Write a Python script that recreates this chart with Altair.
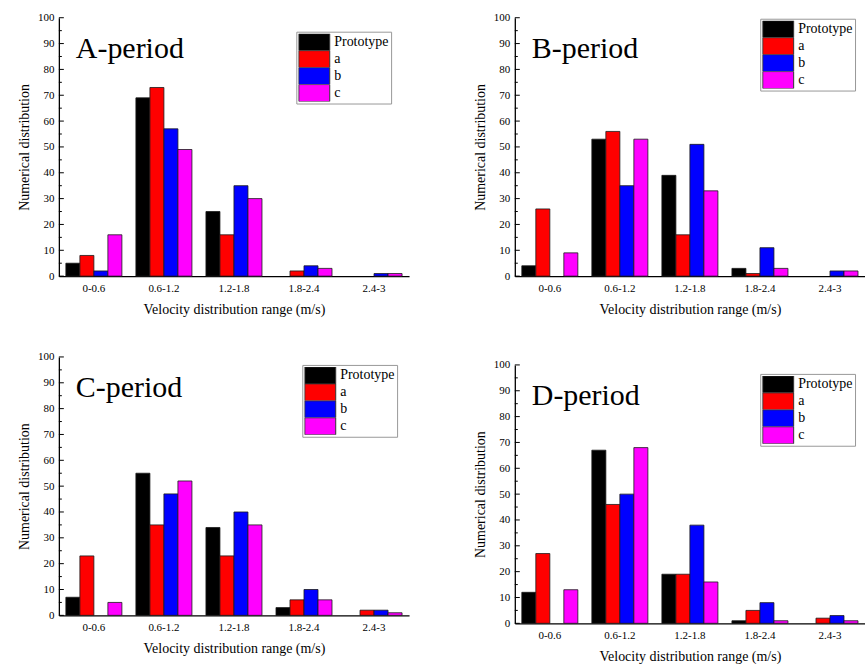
import altair as alt
import pandas as pd

ranges = ["0-0.6", "0.6-1.2", "1.2-1.8", "1.8-2.4", "2.4-3"]
series = ["Prototype", "a", "b", "c"]
colors = ["#000000", "#FF0000", "#0000FF", "#FF00FF"]

A_prototype = [5, 69, 25, 0, 0]
A_a = [8, 73, 16, 2, 0]
A_b = [2, 57, 35, 4, 1]
A_c = [16, 49, 30, 3, 1]

B_prototype = [4, 53, 39, 3, 0]
B_a = [26, 56, 16, 1, 0]
B_b = [0, 35, 51, 11, 2]
B_c = [9, 53, 33, 3, 2]

C_prototype = [7, 55, 34, 3, 0]
C_a = [23, 35, 23, 6, 2]
C_b = [0, 47, 40, 10, 2]
C_c = [5, 52, 35, 6, 1]

D_prototype = [12, 67, 19, 1, 0]
D_a = [27, 46, 19, 5, 2]
D_b = [0, 50, 38, 8, 3]
D_c = [13, 68, 16, 1, 1]

major_ticks = list(range(0, 101, 10))
minor_ticks = list(range(5, 100, 10))

FONT = "Liberation Serif"
W, H = 351, 259

yscale = alt.Scale(domain=[0, 100], nice=False)
yaxis = alt.Axis(title="Numerical distribution", values=major_ticks,
                 ticks=False, grid=False, labelPadding=5, titlePadding=6,
                 labelFontSize=11, titleFontSize=14)


def panel(label, vals, lx, ly, shift_size=None, shift_offset=0):
    rows = []
    for s, v in zip(series, vals):
        for r, x in zip(ranges, v):
            rows.append({"range": r, "series": s, "value": x})
    df = pd.DataFrame(rows)
    bars = alt.Chart(df).transform_filter("datum.value > 0").mark_bar(
        stroke="#1a1a1a", strokeWidth=0.8).encode(
        x=alt.X("range:N", sort=ranges,
                scale=alt.Scale(domain=ranges, paddingInner=0.2, paddingOuter=0.1),
                axis=alt.Axis(title="Velocity distribution range (m/s)", ticks=False,
                              labelAngle=0, labelPadding=6, titlePadding=9,
                              labelFontSize=11, titleFontSize=14)),
        xOffset=alt.XOffset("series:N", sort=series,
                            scale=alt.Scale(domain=series, paddingInner=0, paddingOuter=0)),
        y=alt.Y("value:Q", scale=yscale, axis=yaxis),
        fill=alt.Fill("series:N", sort=series,
                      scale=alt.Scale(domain=series, range=colors),
                      legend=alt.Legend(title=None, orient="none", legendX=lx, legendY=ly,
                                        padding=2, strokeColor="#999999", fillColor="white",
                                        symbolType="M-1,-0.55H1V0.55H-1Z", symbolSize=961,
                                        symbolStrokeColor="#333333", symbolStrokeWidth=1,
                                        symbolOpacity=1, labelFont=FONT, labelFontSize=14,
                                        labelOffset=4, rowPadding=0, clipHeight=17,
                                        labelColor="black")),
    )
    maj = alt.Chart(pd.DataFrame({"value": major_ticks})).mark_rule(color="black", strokeWidth=1).encode(
        y=alt.Y("value:Q", scale=yscale, axis=yaxis), x=alt.value(0), x2=alt.value(5))
    mnr = alt.Chart(pd.DataFrame({"value": minor_ticks})).mark_rule(color="black", strokeWidth=1).encode(
        y=alt.Y("value:Q", scale=yscale, axis=yaxis), x=alt.value(0), x2=alt.value(3))
    title = alt.Chart(pd.DataFrame({"label": [label]})).mark_text(
        align="left", baseline="alphabetic", font=FONT, fontSize=30, color="black").encode(
        x=alt.value(17), y=alt.value(40), text="label:N")
    layer = alt.layer(bars, maj, mnr, title).properties(width=W, height=H)
    if shift_size:
        layer = layer.properties(title=alt.TitleParams(
            text="x", fontSize=shift_size, offset=shift_offset, color="white"))
    return layer


pA = panel("A-period", [A_prototype, A_a, A_b, A_c], 238, 14)
pB = panel("B-period", [B_prototype, B_a, B_b, B_c], 246, 1, 5, 0)
pC = panel("C-period", [C_prototype, C_a, C_b, C_c], 244, 8)
pD = panel("D-period", [D_prototype, D_a, D_b, D_c], 246, 9)

col1 = alt.vconcat(pA, pC, spacing=35).resolve_scale(fill="independent").resolve_legend(fill="independent")
col2 = alt.vconcat(pB, pD, spacing=43).resolve_scale(fill="independent").resolve_legend(fill="independent")

chart = alt.hconcat(col1, col2, spacing=64).resolve_scale(fill="independent").resolve_legend(
    fill="independent").properties(
    padding={"left": 17, "top": 6, "right": 0, "bottom": 0},
    background="white",
).configure_view(stroke=None).configure_axis(
    labelFont=FONT, titleFont=FONT, labelColor="black", titleColor="black",
    titleFontWeight="normal", domainColor="black", domainWidth=1.3,
).configure_legend(labelFont=FONT)

chart.save("out.html", embed_options={"renderer": "svg", "actions": False})
